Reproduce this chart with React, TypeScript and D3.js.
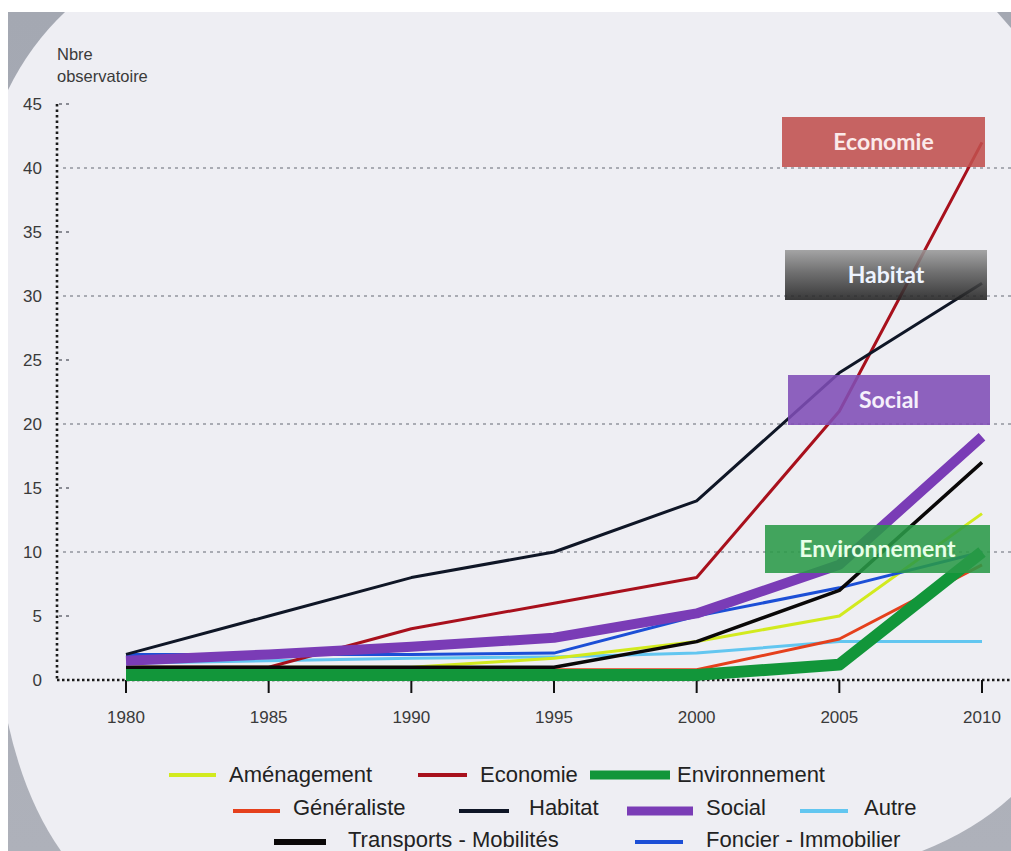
import React from 'react';
import * as d3 from 'd3';

// ---------- data ----------
const years = [1980, 1985, 1990, 1995, 2000, 2005, 2010];
const yTickValues = [0, 5, 10, 15, 20, 25, 30, 35, 40, 45];
const gridValues = [10, 20, 30, 40];

const amenagement = [1, 1, 1, 1.7, 3, 5, 13];
const economie = [1, 1, 4, 6, 8, 21, 42];
const environnement = [0.4, 0.4, 0.4, 0.4, 0.4, 1.2, 10];
const generaliste = [0.8, 0.8, 0.8, 0.8, 0.8, 3.2, 9];
const habitat = [2, 5, 8, 10, 14, 24, 31];
const social = [1.5, 2, 2.6, 3.3, 5.2, 9, 19];
const autre = [1.3, 1.5, 1.7, 1.8, 2.1, 3, 3];
const transports = [1, 1, 1, 1, 3, 7, 17];
const foncier = [2, 2, 2, 2.1, 5, 7.2, 10];

const seriesNames = [
  'Aménagement', 'Economie', 'Environnement', 'Généraliste', 'Habitat',
  'Social', 'Autre', 'Transports - Mobilités', 'Foncier - Immobilier',
];
const seriesValues = [
  amenagement, economie, environnement, generaliste, habitat,
  social, autre, transports, foncier,
];
const calloutLabels = ['Economie', 'Habitat', 'Social', 'Environnement'];

// ---------- styles / layout ----------
const lineStyle: Record<string, { color: string; width: number; legendWidth: number }> = {
  'Aménagement': { color: '#d2ea1e', width: 3, legendWidth: 4 },
  'Economie': { color: '#a8101c', width: 3, legendWidth: 4 },
  'Environnement': { color: '#12963a', width: 12, legendWidth: 9 },
  'Généraliste': { color: '#e5401c', width: 3, legendWidth: 4 },
  'Habitat': { color: '#0f1626', width: 3, legendWidth: 4 },
  'Social': { color: '#7a3cb6', width: 10, legendWidth: 9 },
  'Autre': { color: '#62c6f0', width: 3, legendWidth: 4 },
  'Transports - Mobilités': { color: '#0a0808', width: 3.5, legendWidth: 6 },
  'Foncier - Immobilier': { color: '#1c4fd6', width: 3, legendWidth: 4 },
};
const drawOrder = [
  'Autre', 'Aménagement', 'Foncier - Immobilier', 'Généraliste', 'Economie',
  'Transports - Mobilités', 'Habitat', 'Social', 'Environnement',
];

// legend layout: row, swatch start, swatch end, text start
const legendLayout: Record<string, [number, number, number, number]> = {
  'Aménagement': [0, 169, 216, 229],
  'Economie': [0, 418, 467, 480],
  'Environnement': [0, 590, 670, 677],
  'Généraliste': [1, 233, 280, 293],
  'Habitat': [1, 459, 509, 529],
  'Social': [1, 627, 693, 706],
  'Autre': [1, 800, 848, 864],
  'Transports - Mobilités': [2, 274, 326, 348],
  'Foncier - Immobilier': [2, 635, 683, 706],
};
const legendBaselines = [782, 815, 847];
const legendSwatchY = [775, 811, 842];

// callout boxes
const calloutLayout: Record<string, { x0: number; y0: number; x1: number; y1: number; fill: string; text: string }> = {
  'Economie': { x0: 782, y0: 117, x1: 985, y1: 167, fill: '#c0504d', text: '#fbeaea' },
  'Habitat': { x0: 785, y0: 250, x1: 987, y1: 300, fill: 'url(#habGrad)', text: '#eef4ff' },
  'Social': { x0: 788, y0: 375, x1: 990, y1: 425, fill: '#7f4db6', text: '#f6f0fb' },
  'Environnement': { x0: 765, y0: 525, x1: 990, y1: 573, fill: '#2a9a48', text: '#e8ffe8' },
};

const W = 1011;
const H = 851;
const AXIS_X = 57;
const FONT = "Arial, 'Liberation Sans', Helvetica, sans-serif";

export default function App() {
  const x = d3.scaleLinear().domain([1980, 2010]).range([126, 982]);
  const y = d3.scaleLinear().domain([0, 45]).range([680, 104]);

  const line = d3
    .line<[number, number]>()
    .x((d) => x(d[0]))
    .y((d) => y(d[1]))
    .curve(d3.curveLinear);

  const bgPath =
    'M65,12 L997,12 L1011,28 L1011,797 Q975,830 922,851 L61,851 Q25,800 8,723 L8,90 Q30,45 65,12 Z';

  return (
    <svg
      width={W}
      height={H}
      style={{ position: 'absolute', left: 0, top: 0, display: 'block', fontFamily: FONT }}
    >
      <defs>
        <linearGradient id="habGrad" x1="0" y1="0" x2="0" y2="1">
          <stop offset="0%" stopColor="#9a9a9a" />
          <stop offset="45%" stopColor="#5e5e5e" />
          <stop offset="100%" stopColor="#202020" />
        </linearGradient>
        <linearGradient id="cornerGrad" x1="0" y1="0" x2="0" y2="1">
          <stop offset="0%" stopColor="#a4a8b2" />
          <stop offset="100%" stopColor="#aeb1ba" />
        </linearGradient>
      </defs>

      {/* background */}
      <rect x={0} y={0} width={W} height={H} fill="#ffffff" />
      <rect x={8} y={12} width={W - 8} height={H - 12} fill="url(#cornerGrad)" />
      <path d={bgPath} fill="#eeeef3" />

      {/* axis title */}
      <text x={AXIS_X} y={60} fontSize={16.5} fill="#3a3a3a" style={{ fontFamily: FONT }}>Nbre</text>
      <text x={AXIS_X} y={82} fontSize={16.5} fill="#3a3a3a" style={{ fontFamily: FONT }}>observatoire</text>

      {/* grid lines */}
      {gridValues.map((v) => (
        <line
          key={'g' + v}
          x1={AXIS_X + 6}
          x2={W}
          y1={y(v)}
          y2={y(v)}
          stroke="#a9abb3"
          strokeWidth={2}
          strokeDasharray="3,4"
        />
      ))}
      {yTickValues
        .filter((v) => v % 10 === 5)
        .map((v) => (
          <line
            key={'m' + v}
            x1={AXIS_X + 2}
            x2={AXIS_X + 12}
            y1={y(v)}
            y2={y(v)}
            stroke="#8a8c94"
            strokeWidth={2}
            strokeDasharray="3,4"
          />
        ))}

      {/* y axis */}
      <line
        x1={AXIS_X}
        x2={AXIS_X}
        y1={y(45)}
        y2={y(0)}
        stroke="#1a1a1a"
        strokeWidth={2.6}
        strokeDasharray="2.5,3"
      />
      {yTickValues.map((v) => (
        <text
          key={'yt' + v}
          x={42}
          y={y(v)}
          dy="0.36em"
          textAnchor="end"
          fontSize={17}
          fill="#3a3a3a"
          style={{ fontFamily: FONT }}
        >
          {v}
        </text>
      ))}

      {/* x axis */}
      <line
        x1={AXIS_X}
        x2={W}
        y1={y(0)}
        y2={y(0)}
        stroke="#1a1a1a"
        strokeWidth={2.6}
        strokeDasharray="2.5,2.5"
      />
      {years.map((yr) => (
        <g key={'xt' + yr}>
          <line x1={x(yr)} x2={x(yr)} y1={y(0)} y2={y(0) + 13} stroke="#111" strokeWidth={2} />
          <text x={x(yr)} y={723} textAnchor="middle" fontSize={17} fill="#3a3a3a" style={{ fontFamily: FONT }}>
            {yr}
          </text>
        </g>
      ))}

      {/* series lines */}
      {drawOrder.map((name) => {
        const idx = seriesNames.indexOf(name);
        const vals = seriesValues[idx];
        const pts: [number, number][] = years.map((yr, i) => [yr, vals[i]]);
        const st = lineStyle[name];
        return (
          <path
            key={'s' + name}
            d={line(pts) || ''}
            fill="none"
            stroke={st.color}
            strokeWidth={st.width}
            strokeLinejoin="round"
            strokeLinecap="butt"
          />
        );
      })}

      {/* callout boxes */}
      {calloutLabels.map((lab) => {
        const c = calloutLayout[lab];
        return (
          <g key={'c' + lab}>
            <rect
              x={c.x0}
              y={c.y0}
              width={c.x1 - c.x0}
              height={c.y1 - c.y0}
              fill={c.fill}
              opacity={0.88}
            />
            <text
              x={(c.x0 + c.x1) / 2}
              y={(c.y0 + c.y1) / 2}
              dy="0.35em"
              textAnchor="middle"
              fontWeight={700}
              fontSize={23}
              fill={c.text}
              style={{ fontFamily: "Lato, 'Open Sans', sans-serif" }}
            >
              {lab}
            </text>
          </g>
        );
      })}

      {/* legend */}
      {seriesNames.map((name) => {
        const [row, s0, s1, tx] = legendLayout[name];
        const st = lineStyle[name];
        return (
          <g key={'l' + name}>
            <line
              x1={s0}
              x2={s1}
              y1={legendSwatchY[row]}
              y2={legendSwatchY[row]}
              stroke={st.color}
              strokeWidth={st.legendWidth}
            />
            <text x={tx} y={legendBaselines[row]} fontSize={22} fill="#222" style={{ fontFamily: FONT }}>
              {name}
            </text>
          </g>
        );
      })}
    </svg>
  );
}
